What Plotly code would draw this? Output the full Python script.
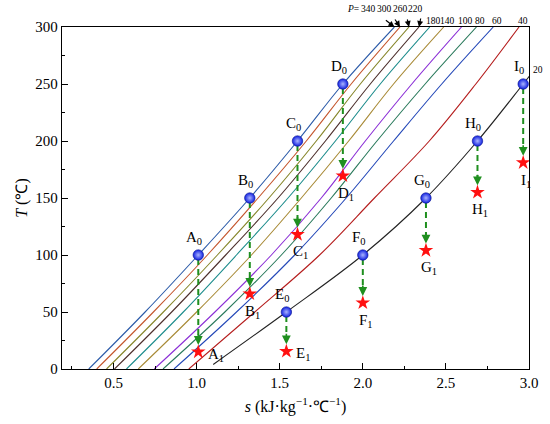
import plotly.graph_objects as go

# ---------------- data ----------------
T_grid = [0, 50, 100, 150, 200, 250, 300]
s_340 = [0.351, 0.69, 1.01, 1.32, 1.607, 1.88, 2.19]
s_300 = [0.399, 0.74, 1.065, 1.37, 1.66, 1.93, 2.224]
s_260 = [0.458, 0.80, 1.125, 1.435, 1.72, 1.985, 2.278]
s_220 = [0.506, 0.85, 1.175, 1.49, 1.775, 2.045, 2.338]
s_180 = [0.578, 0.92, 1.24, 1.55, 1.835, 2.105, 2.403]
s_140 = [0.649, 1.00, 1.33, 1.63, 1.915, 2.185, 2.487]
s_100 = [0.745, 1.11, 1.45, 1.75, 2.015, 2.295, 2.594]
s_80 = [0.798, 1.17, 1.51, 1.81, 2.085, 2.375, 2.684]
s_60 = [0.864, 1.24, 1.59, 1.90, 2.185, 2.475, 2.785]
s_40 = [0.953, 1.35, 1.74, 2.07, 2.40, 2.68, 2.94]
T_20 = [4, 50, 100, 150, 200, 250, 262]
s_20 = [1.10, 1.54, 2.00, 2.38, 2.69, 2.965, 3.03]

pressures = ["340", "300", "260", "220", "180", "140", "100", "80", "60", "40"]
isobars = [s_340, s_300, s_260, s_220, s_180, s_140, s_100, s_80, s_60, s_40]

point_names = ["A", "B", "C", "D", "E", "F", "G", "H", "I"]
s_points = [1.01, 1.32, 1.607, 1.88, 1.54, 2.0, 2.38, 2.69, 2.965]
T_start = [100, 150, 200, 250, 50, 100, 150, 200, 250]
T_end = [15, 66, 118, 169.5, 15.5, 58, 104, 155, 181]

# ---------------- style ----------------
colors = ["#2b5aa8", "#c4552c", "#86862a", "#4d2f2c", "#1c8c8c",
          "#a88a36", "#8b2fd6", "#2a7a5c", "#2448b8", "#b51d1d"]
FONT = "Liberation Serif"
px_per_T = 343 / 300.0  # pixels per degree (plot height / range)

fig = go.Figure()

for name, s_vals, c in zip(pressures, isobars, colors):
    fig.add_trace(go.Scatter(x=s_vals, y=T_grid, mode="lines",
                             line=dict(color=c, width=1.1, shape="spline", smoothing=1.0),
                             name=name, showlegend=False, hoverinfo="skip"))
fig.add_trace(go.Scatter(x=s_20, y=T_20, mode="lines",
                         line=dict(color="#222222", width=1.1, shape="spline", smoothing=1.0),
                         showlegend=False, hoverinfo="skip"))

# dashed green arrows
for s, t0, t1 in zip(s_points, T_start, T_end):
    tip = t1 + 7 / px_per_T
    fig.add_trace(go.Scatter(x=[s, s], y=[t0 - 4 / px_per_T, tip + 4 / px_per_T], mode="lines",
                             line=dict(color="#1f8f1f", width=2, dash="6px,4px"),
                             showlegend=False, hoverinfo="skip"))
    fig.add_annotation(x=s, y=tip, ax=0, ay=-12, text="", showarrow=True,
                       arrowhead=2, arrowsize=1.1, arrowwidth=1.6, arrowcolor="#1f8f1f",
                       standoff=0)

# stars
fig.add_trace(go.Scatter(x=s_points, y=T_end, mode="markers",
                         marker=dict(symbol="star", size=11, color="#ff1010", line=dict(width=0)),
                         showlegend=False, hoverinfo="skip"))
# blue spheres
fig.add_trace(go.Scatter(x=s_points, y=T_start, mode="markers",
                         marker=dict(symbol="circle", size=10.5, color="#1020e0",
                                     gradient=dict(type="radial", color="#aab4ff"),
                                     line=dict(width=0.6, color="#0a1490")),
                         showlegend=False, hoverinfo="skip"))

# point labels
lab_font = dict(family=FONT, size=15, color="black")
for n, s, t0, t1 in zip(point_names, s_points, T_start, T_end):
    fig.add_annotation(x=s, y=t0, text=f"{n}<sub>0</sub>", showarrow=False,
                       xanchor="center", yanchor="bottom", xshift=-4, yshift=6, font=lab_font)
    if n in ("A", "E"):
        fig.add_annotation(x=s, y=t1, text=f"{n}<sub>1</sub>", showarrow=False,
                           xanchor="left", yanchor="middle", xshift=8, yshift=-3, font=lab_font)
    else:
        fig.add_annotation(x=s, y=t1, text=f"{n}<sub>1</sub>", showarrow=False,
                           xanchor="center", yanchor="top", xshift=3, yshift=-7, font=lab_font)

# pressure labels at top
p_font = dict(family=FONT, size=9.5, color="black")
group1_shift = {"340": -26, "300": -16, "260": -9, "220": -3}
for name, s_vals in zip(pressures, isobars):
    top = s_vals[-1]
    if name in group1_shift:
        fig.add_annotation(x=top, y=300, text=name, showarrow=False, xanchor="center",
                           yanchor="bottom", xshift=group1_shift[name], yshift=11, font=p_font)
    else:
        fig.add_annotation(x=top, y=300, text=name, showarrow=False, xanchor="center",
                           yanchor="bottom", xshift=4, yshift=-1, font=p_font)
arrow_tails = {"340": (-10, -8), "300": (-6, -9), "260": (-2, -9), "220": (2, -10)}
for name, s_vals in zip(pressures, isobars):
    if name in arrow_tails:
        ax, ay = arrow_tails[name]
        fig.add_annotation(x=s_vals[-1], y=300, ax=ax, ay=ay, text="", showarrow=True,
                           arrowhead=2, arrowsize=1, arrowwidth=1.2, arrowcolor="black", standoff=0)
fig.add_annotation(x=s_340[-1], y=300, text="<i>P</i>=", showarrow=False, xanchor="right",
                   yanchor="bottom", xshift=-33, yshift=11, font=p_font)
fig.add_annotation(x=3.0, y=T_20[-1], text="20", showarrow=False, xanchor="left",
                   yanchor="middle", xshift=2, font=p_font)

axis_common = dict(showline=True, linecolor="black", linewidth=1.3, mirror=True,
                   ticks="inside", ticklen=6, tickwidth=1.2, tickcolor="black",
                   showgrid=False, zeroline=False,
                   tickfont=dict(family=FONT, size=15, color="black"))
fig.update_xaxes(range=[0.19, 3.0], tickvals=[0.5, 1.0, 1.5, 2.0, 2.5, 3.0],
                 ticktext=["0.5", "1.0", "1.5", "2.0", "2.5", "3.0"],
                 minor=dict(tickvals=[0.25, 0.75, 1.25, 1.75, 2.25, 2.75], ticks="inside",
                            ticklen=3, tickcolor="black", tickwidth=1),
                 title=dict(text="<i>s</i> (kJ·kg<sup>−1</sup>·℃<sup>−1</sup>)",
                            font=dict(family=FONT, size=16, color="black"), standoff=10),
                 **axis_common)
fig.update_yaxes(range=[0, 300], tickvals=[0, 50, 100, 150, 200, 250, 300],
                 minor=dict(tickvals=[25, 75, 125, 175, 225, 275], ticks="inside",
                            ticklen=3, tickcolor="black", tickwidth=1),
                 title=dict(text="<i>T</i> (℃)", font=dict(family=FONT, size=16, color="black"),
                            standoff=3),
                 **axis_common)
fig.update_layout(width=550, height=424, margin=dict(l=62, r=16, t=27, b=54),
                  plot_bgcolor="white", paper_bgcolor="white", showlegend=False)

# remove the default 8px page margin so the figure fills the window exactly
fig.write_html("out.html", config={"displayModeBar": False},
               post_script="document.body.style.margin='0px';")
